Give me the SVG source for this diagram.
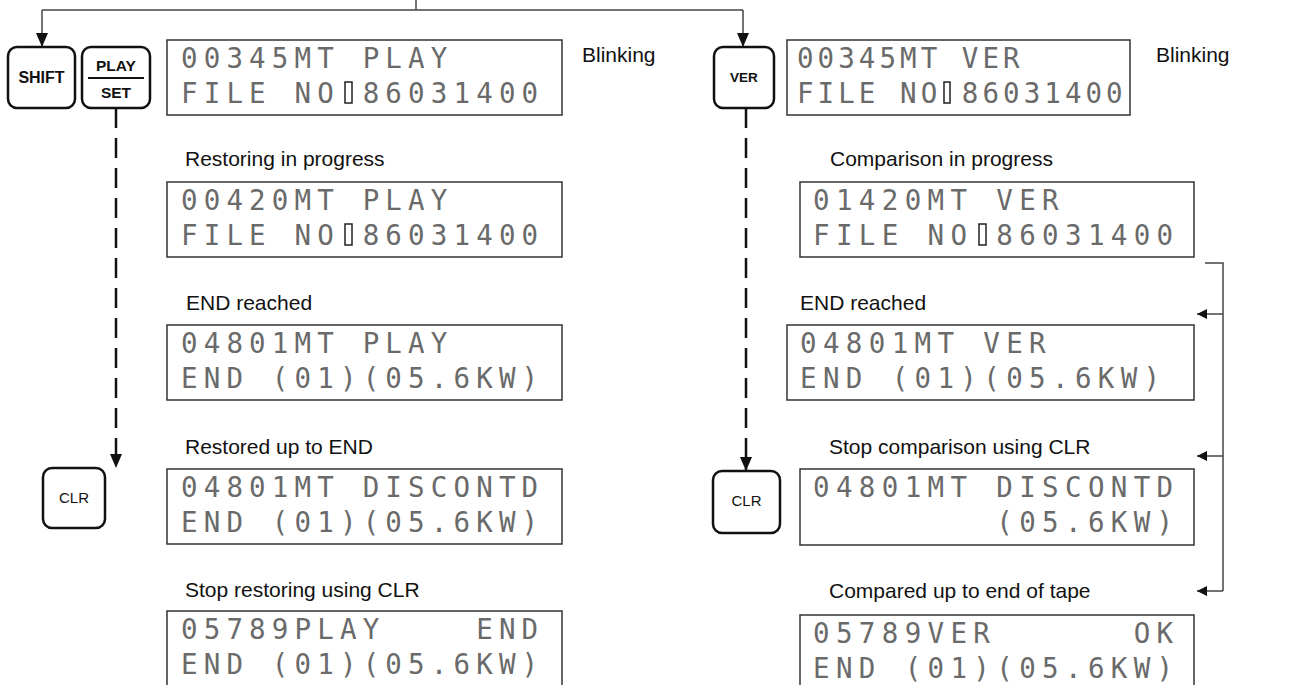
<svg xmlns="http://www.w3.org/2000/svg" width="1300" height="685" viewBox="0 0 1300 685">
<style>
.lcd{fill:#fff;stroke:#333;stroke-width:1.5}
.lt{font-family:"DejaVu Sans Mono",monospace;font-size:27.5px;fill:#6a6a6a;white-space:pre}
.lw{letter-spacing:6.15px}
.rw{letter-spacing:6.35px}
.sw{letter-spacing:4.05px}
.cur{fill:#fff;stroke:#222;stroke-width:1.5}
.lbl{font-family:"Liberation Sans",Arial,sans-serif;font-size:21px;fill:#111}
.key{fill:#fff;stroke:#111;stroke-width:2.5}
.kb{font-family:"Liberation Sans",Arial,sans-serif;font-weight:bold;fill:#111;text-anchor:middle}
.kr{font-family:"Liberation Sans",Arial,sans-serif;fill:#111;text-anchor:middle}
.ln{fill:none;stroke:#444;stroke-width:1.5}
.dash{fill:none;stroke:#111;stroke-width:2.5;stroke-dasharray:20 10}
</style>
<defs>
<marker id="ah" markerUnits="userSpaceOnUse" markerWidth="12" markerHeight="16" refX="10" refY="5" orient="auto" viewBox="0 0 12 10">
<path d="M0,0 L10,5 L0,10 Z" fill="#111"/>
</marker>
<marker id="ahb" markerUnits="userSpaceOnUse" markerWidth="14" markerHeight="12" refX="14" refY="6" orient="auto" viewBox="0 0 14 12">
<path d="M0,0 L14,6 L0,12 Z" fill="#111"/>
</marker>
</defs>

<g id="connectors">
<path class="ln" d="M416,0 V10"/>
<path class="ln" d="M42,10 H743"/>
<path class="ln" d="M42,10 V47" marker-end="url(#ahb)"/>
<path class="ln" d="M743,10 V47" marker-end="url(#ahb)"/>
<path class="dash" d="M116,108 V468" marker-end="url(#ahb)"/>
<path class="dash" d="M746,108 V471" marker-end="url(#ahb)"/>
<path class="ln" d="M1205,263 H1223 V591"/>
<path class="ln" d="M1223,314 H1197" marker-end="url(#ah)"/>
<path class="ln" d="M1223,456 H1197" marker-end="url(#ah)"/>
<path class="ln" d="M1223,591 H1197" marker-end="url(#ah)"/>
</g>

<g id="key-shift">
<rect class="key" x="8" y="47" width="67" height="61" rx="9"/>
<text class="kb" x="41.5" y="83" font-size="16">SHIFT</text>
</g>
<g id="key-playset">
<rect class="key" x="82" y="47" width="68" height="61" rx="9"/>
<text class="kb" x="116" y="71" font-size="15.5">PLAY</text>
<path d="M88,78 H144" stroke="#111" stroke-width="2"/>
<text class="kb" x="116" y="98" font-size="15.5">SET</text>
</g>
<g id="key-ver">
<rect class="key" x="714" y="47" width="60" height="61" rx="9"/>
<text class="kb" x="744" y="82" font-size="13.5">VER</text>
</g>
<g id="key-clr-left">
<rect class="key" x="43" y="468" width="62" height="60" rx="9"/>
<text class="kr" x="74" y="503" font-size="15">CLR</text>
</g>
<g id="key-clr-right">
<rect class="key" x="713" y="471" width="67" height="62" rx="9"/>
<text class="kr" x="746.5" y="506" font-size="15">CLR</text>
</g>

<g id="blink-left"><text class="lbl" x="582" y="62">Blinking</text></g>
<g id="blink-right"><text class="lbl" x="1156" y="62">Blinking</text></g>

<g id="lcd-l1">
<rect class="lcd" x="167" y="40" width="395" height="75"/>
<text class="lt lw" x="181" y="68" xml:space="preserve">00345MT PLAY</text>
<text class="lt lw" x="181" y="103" xml:space="preserve">FILE NO 86031400</text>
<rect class="cur" x="345" y="82" width="7" height="21"/>
</g>
<g id="lbl-l2"><text class="lbl" x="185" y="166">Restoring in progress</text></g>
<g id="lcd-l2">
<rect class="lcd" x="167" y="182" width="395" height="75"/>
<text class="lt lw" x="181" y="210" xml:space="preserve">00420MT PLAY</text>
<text class="lt lw" x="181" y="245" xml:space="preserve">FILE NO 86031400</text>
<rect class="cur" x="345" y="224" width="7" height="21"/>
</g>
<g id="lbl-l3"><text class="lbl" x="186" y="310">END reached</text></g>
<g id="lcd-l3">
<rect class="lcd" x="167" y="325" width="395" height="75"/>
<text class="lt lw" x="181" y="353" xml:space="preserve">04801MT PLAY</text>
<text class="lt lw" x="181" y="388" xml:space="preserve">END (01)(05.6KW)</text>
</g>
<g id="lbl-l4"><text class="lbl" x="185" y="454">Restored up to END</text></g>
<g id="lcd-l4">
<rect class="lcd" x="167" y="469" width="395" height="75"/>
<text class="lt lw" x="181" y="497" xml:space="preserve">04801MT DISCONTD</text>
<text class="lt lw" x="181" y="532" xml:space="preserve">END (01)(05.6KW)</text>
</g>
<g id="lbl-l5"><text class="lbl" x="185" y="597">Stop restoring using CLR</text></g>
<g id="lcd-l5">
<rect class="lcd" x="167" y="611" width="395" height="76"/>
<text class="lt lw" x="181" y="639" xml:space="preserve">05789PLAY    END</text>
<text class="lt lw" x="181" y="674" xml:space="preserve">END (01)(05.6KW)</text>
</g>

<g id="lcd-r1">
<rect class="lcd" x="787" y="40" width="343" height="75"/>
<text class="lt sw" x="797" y="68" xml:space="preserve">00345MT VER</text>
<text class="lt sw" x="797" y="103" xml:space="preserve">FILE NO 86031400</text>
<rect class="cur" x="944" y="82" width="6" height="21"/>
</g>
<g id="lbl-r2"><text class="lbl" x="830" y="166">Comparison in progress</text></g>
<g id="lcd-r2">
<rect class="lcd" x="800" y="182" width="394" height="75"/>
<text class="lt rw" x="813" y="210" xml:space="preserve">01420MT VER</text>
<text class="lt rw" x="813" y="245" xml:space="preserve">FILE NO 86031400</text>
<rect class="cur" x="979" y="224" width="7" height="21"/>
</g>
<g id="lbl-r3"><text class="lbl" x="800" y="310">END reached</text></g>
<g id="lcd-r3">
<rect class="lcd" x="787" y="325" width="407" height="75"/>
<text class="lt rw" x="800" y="353" xml:space="preserve">04801MT VER</text>
<text class="lt rw" x="800" y="388" xml:space="preserve">END (01)(05.6KW)</text>
</g>
<g id="lbl-r4"><text class="lbl" x="829" y="454">Stop comparison using CLR</text></g>
<g id="lcd-r4">
<rect class="lcd" x="800" y="469" width="394" height="76"/>
<text class="lt rw" x="813" y="497" xml:space="preserve">04801MT DISCONTD</text>
<text class="lt rw" x="813" y="532" xml:space="preserve">        (05.6KW)</text>
</g>
<g id="lbl-r5"><text class="lbl" x="829" y="598">Compared up to end of tape</text></g>
<g id="lcd-r5">
<rect class="lcd" x="800" y="615" width="394" height="72"/>
<text class="lt rw" x="813" y="643" xml:space="preserve">05789VER      OK</text>
<text class="lt rw" x="813" y="678" xml:space="preserve">END (01)(05.6KW)</text>
</g>
</svg>
